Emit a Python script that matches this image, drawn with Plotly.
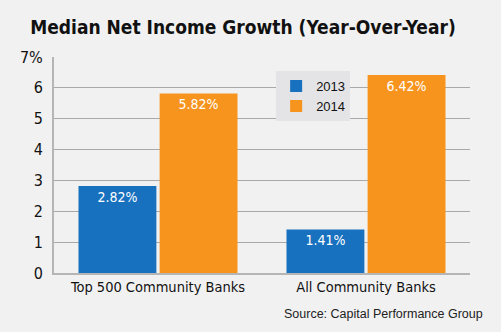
import plotly.graph_objects as go

categories = ["Top 500 Community Banks", "All Community Banks"]
growth_2013 = [2.82, 1.41]
growth_2014 = [5.82, 6.42]
tick_vals = [0, 1, 2, 3, 4, 5, 6, 7]
tick_text = ["0", "1", "2", "3", "4", "5", "6", "7%"]

BLUE = "#1771be"
ORANGE = "#f7941d"
BG = "#f1f1f2"
NARROW = "DejaVu Sans Condensed, Liberation Sans Narrow, sans-serif"
PLAIN = "Liberation Sans, Arial, sans-serif"

fig = go.Figure()
for name, vals, color in [("2013", growth_2013, BLUE), ("2014", growth_2014, ORANGE)]:
    fig.add_trace(go.Bar(
        name=name, x=categories, y=vals, marker=dict(color=color, line=dict(width=0)),
        text=[f"{v:.2f}%" for v in vals], textposition="inside", insidetextanchor="end",
        textfont=dict(color="white", size=14, family=NARROW),
        textangle=0, cliponaxis=False,
    ))

fig.update_layout(
    width=501, height=332,
    margin=dict(l=54, r=31, t=57, b=59),
    paper_bgcolor=BG, plot_bgcolor=BG,
    barmode="group", bargap=0.22, bargroupgap=0.04,
    title=dict(text="<b>Median Net Income Growth (Year-Over-Year)</b>",
               x=0.485, xanchor="center", y=0.918, yanchor="middle",
               font=dict(family=NARROW, size=19, color="#111111")),
    legend=dict(x=0.534, y=0.935, xanchor="left", yanchor="top",
                bgcolor="#e4e4e6", font=dict(family=PLAIN, size=13, color="#111"),
                itemwidth=30, tracegroupgap=0),
    uniformtext=dict(minsize=10, mode="show"),
    showlegend=True,
)
fig.update_yaxes(range=[0, 7], tickvals=tick_vals, ticktext=tick_text,
                 showgrid=True, gridcolor="#a9a9a9", gridwidth=1.2,
                 showline=True, linecolor="#b5b5b5", linewidth=2,
                 ticks="", ticklabelstandoff=6,
                 tickfont=dict(family=NARROW, size=16, color="#111"), zeroline=False)
fig.update_xaxes(showline=True, linecolor="#b5b5b5", linewidth=2, ticks="",
                 tickfont=dict(family=NARROW, size=14.5, color="#111"))
fig.add_annotation(text="Source: Capital Performance Group", xref="paper", yref="paper",
                   x=1.035, y=-0.15, xanchor="right", yanchor="top", showarrow=False,
                   font=dict(family=PLAIN, size=12.5, color="#222"))

fig.write_html("out.html")
